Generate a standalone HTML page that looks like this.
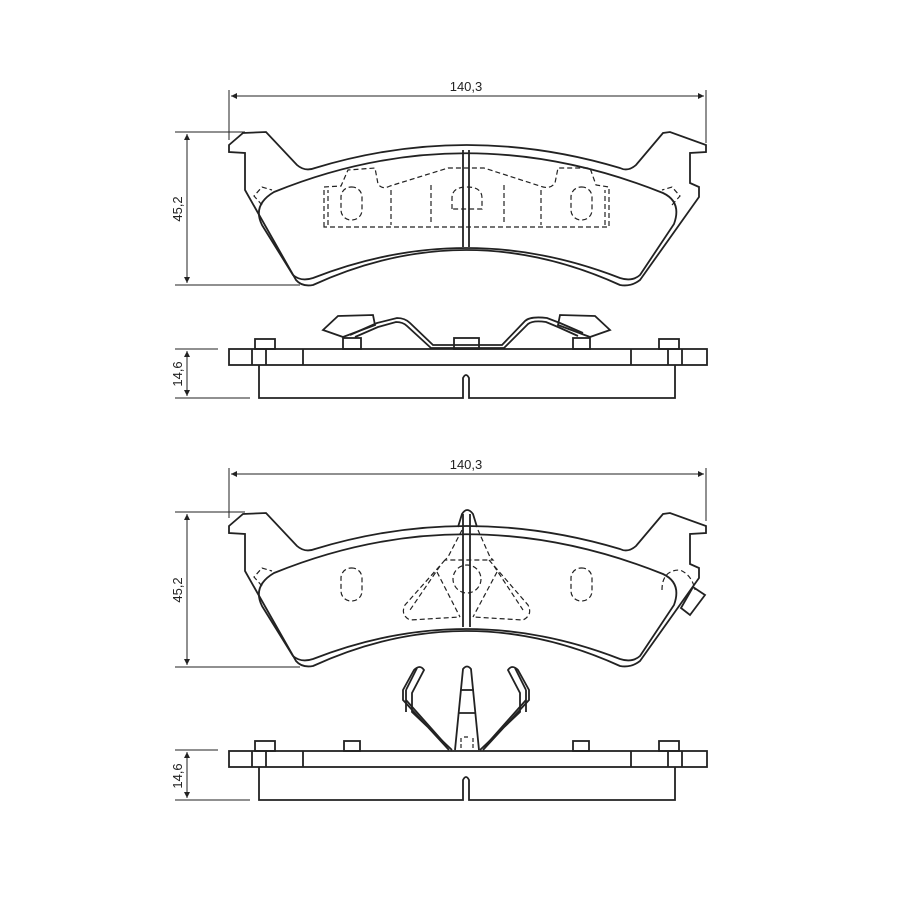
<!DOCTYPE html>
<html><head><meta charset="utf-8"><style>
html,body{margin:0;padding:0;background:#fff}
svg{display:block}
text{font-family:"Liberation Sans",sans-serif;font-size:13px;fill:#222}
</style></head><body>
<svg width="900" height="900" viewBox="0 0 900 900" xmlns="http://www.w3.org/2000/svg">
<defs>
<marker id="ar" viewBox="0 0 10 10" refX="10" refY="5" markerWidth="14" markerHeight="6" orient="auto-start-reverse" markerUnits="userSpaceOnUse">
<path d="M0,0 L10,5 L0,10 z" fill="#222"/></marker>
<g id="pad" fill="none" stroke="#222" stroke-width="1.8">
<path d="M229,145 L243,133 L266,132 L297,165 Q305,172 315,168 Q466,122 620,168 Q628,172 636,165 L663,133 L670,132 L706,145 L706,152 L690,153 L690,183 L699,187 L699,197 L640,280 Q631,287 620,285 Q466,215 313,285 Q302,287 296,280 L245,190 L245,153 L229,152 Z"/>
<path d="M274,192 Q466,114 663,193 Q682,202 674,224 L640,275 Q632,282 620,278 Q466,218 313,278 Q301,282 293,275 L262,225 Q252,205 274,192 Z"/>
</g>
</defs>

<g stroke="#222" stroke-width="1" fill="none">
<line x1="229" y1="90" x2="229" y2="140"/>
<line x1="706" y1="90" x2="706" y2="143"/>
<line x1="231" y1="96" x2="704" y2="96" marker-start="url(#ar)" marker-end="url(#ar)"/>
<line x1="175" y1="132" x2="245" y2="132"/>
<line x1="175" y1="285" x2="300" y2="285"/>
<line x1="187" y1="134" x2="187" y2="283" marker-start="url(#ar)" marker-end="url(#ar)"/>
<line x1="175" y1="349" x2="218" y2="349"/>
<line x1="175" y1="398" x2="250" y2="398"/>
<line x1="187" y1="351" x2="187" y2="396" marker-start="url(#ar)" marker-end="url(#ar)"/>
</g>
<text x="466" y="91" text-anchor="middle">140,3</text>
<text transform="translate(182,209) rotate(-90)" text-anchor="middle">45,2</text>
<text transform="translate(182,374) rotate(-90)" text-anchor="middle">14,6</text>

<use href="#pad"/>
<g fill="none" stroke="#222" stroke-width="1.8">
<line x1="463" y1="150" x2="463" y2="247"/><line x1="469" y1="150" x2="469" y2="247"/>
</g>
<g fill="none" stroke="#222" stroke-width="1.2" stroke-dasharray="5,3">
<path d="M324,227 L324,187 L341,186 L348,170 L375,168 L378,184 Q382,190 390,186 L448,168 L484,168 L540,186 Q550,190 555,183 L558,168 L590,168 L596,185 L609,187 L609,227 Z"/>
<path d="M328,225 L328,190"/><path d="M605,225 L605,190"/>
<rect x="341" y="187" width="21" height="33" rx="10"/>
<rect x="571" y="187" width="21" height="33" rx="10"/>
<path d="M452,209 L452,198 Q452,187 467,187 Q482,187 482,198 L482,209 Z"/>
<line x1="391" y1="190" x2="391" y2="225"/><line x1="431" y1="185" x2="431" y2="225"/>
<line x1="504" y1="185" x2="504" y2="225"/><line x1="541" y1="190" x2="541" y2="225"/>
<path d="M262,205 L254,196 L262,187 L272,190"/>
<path d="M672,205 L680,196 L672,187 L662,190"/>
</g>

<g fill="none" stroke="#222" stroke-width="1.8">
<rect x="229" y="349" width="478" height="16"/>
<line x1="252" y1="349" x2="252" y2="365"/><line x1="266" y1="349" x2="266" y2="365"/><line x1="303" y1="349" x2="303" y2="365"/>
<line x1="631" y1="349" x2="631" y2="365"/><line x1="668" y1="349" x2="668" y2="365"/><line x1="682" y1="349" x2="682" y2="365"/>
<path d="M259,365 L259,398 L463,398 L463,378 Q466,372 469,378 L469,398 L675,398 L675,365"/>
<rect x="255" y="339" width="20" height="10"/><rect x="659" y="339" width="20" height="10"/>
<rect x="343" y="338" width="18" height="11"/><rect x="454" y="338" width="25" height="11"/><rect x="573" y="338" width="17" height="11"/>
<path d="M323,330 L338,316 L373,315 L375,325 L343,337 Z"/>
<path d="M610,330 L595,316 L560,315 L558,325 L590,337 Z"/>
<path d="M350,335 L377,323 L397,318 Q405,318 410,323 L433,345 L502,345 L525,321 Q530,316 547,318 L560,323 L583,333"/>
<path d="M355,337 L378,327 L396,322 Q403,322 407,326 L431,348 L504,348 L528,324 Q533,320 546,322 L558,327 L578,336"/>
</g>

<g stroke="#222" stroke-width="1" fill="none">
<line x1="229" y1="468" x2="229" y2="518"/>
<line x1="706" y1="468" x2="706" y2="521"/>
<line x1="231" y1="474" x2="704" y2="474" marker-start="url(#ar)" marker-end="url(#ar)"/>
<line x1="175" y1="512" x2="245" y2="512"/>
<line x1="175" y1="667" x2="300" y2="667"/>
<line x1="187" y1="514" x2="187" y2="665" marker-start="url(#ar)" marker-end="url(#ar)"/>
<line x1="175" y1="750" x2="218" y2="750"/>
<line x1="175" y1="800" x2="250" y2="800"/>
<line x1="187" y1="752" x2="187" y2="798" marker-start="url(#ar)" marker-end="url(#ar)"/>
</g>
<text x="466" y="469" text-anchor="middle">140,3</text>
<text transform="translate(182,590) rotate(-90)" text-anchor="middle">45,2</text>
<text transform="translate(182,776) rotate(-90)" text-anchor="middle">14,6</text>

<use href="#pad" transform="translate(0,381)"/>
<g fill="none" stroke="#222" stroke-width="1.8">
<path d="M458,527 L462,514 Q467,506 473,514 L477,527"/>
<line x1="463" y1="514" x2="463" y2="627"/><line x1="470" y1="514" x2="470" y2="627"/>
<path d="M681,608 L693,587 L705,595 L690,615 Z"/>
</g>
<g fill="none" stroke="#222" stroke-width="1.2" stroke-dasharray="5,3">
<rect x="341" y="568" width="21" height="33" rx="10"/>
<rect x="571" y="568" width="21" height="33" rx="10"/>
<circle cx="467" cy="579" r="14"/>
<path d="M462,530 L448,557 L445,560 L493,560 L490,557 L478,530"/>
<path d="M445,560 L405,605 Q400,615 410,620 L460,617"/>
<path d="M437,572 L460,617"/><path d="M440,566 L410,610"/>
<path d="M489,560 L528,605 Q533,615 523,620 L473,617"/>
<path d="M497,572 L473,617"/><path d="M494,566 L523,610"/>
<path d="M262,586 L254,577 L262,568 L272,571"/>
<path d="M662,590 Q662,570 680,570 Q692,575 695,590"/>
</g>

<g fill="none" stroke="#222" stroke-width="1.8">
<rect x="229" y="751" width="478" height="16"/>
<line x1="252" y1="751" x2="252" y2="767"/><line x1="266" y1="751" x2="266" y2="767"/><line x1="303" y1="751" x2="303" y2="767"/>
<line x1="631" y1="751" x2="631" y2="767"/><line x1="668" y1="751" x2="668" y2="767"/><line x1="682" y1="751" x2="682" y2="767"/>
<path d="M259,767 L259,800 L463,800 L463,780 Q466,774 469,780 L469,800 L675,800 L675,767"/>
<rect x="255" y="741" width="20" height="10"/><rect x="659" y="741" width="20" height="10"/>
<rect x="344" y="741" width="16" height="10"/><rect x="573" y="741" width="16" height="10"/>
<path d="M455,750 L463,669 Q467,664 471,669 L479,750"/>
<line x1="460" y1="690" x2="474" y2="690"/><line x1="458" y1="713" x2="476" y2="713"/>
<path d="M461,738 L461,748 M473,738 L473,748 M464,737 L470,737" stroke-dasharray="4,2" stroke-width="1.2"/>
<path d="M449,750 L403,700 L403,690 L414,670 Q420,664 424,670 L412,693 L412,712 L452,750"/>
<path d="M406,690 L417,668"/><path d="M406,700 L446,745"/>
<path d="M406,690 L406,712"/>
<path d="M483,750 L529,700 L529,690 L518,670 Q512,664 508,670 L520,693 L520,712 L480,750"/>
<path d="M526,690 L515,668"/><path d="M526,700 L486,745"/>
<path d="M526,690 L526,712"/>
</g>
</svg>
</body></html>
